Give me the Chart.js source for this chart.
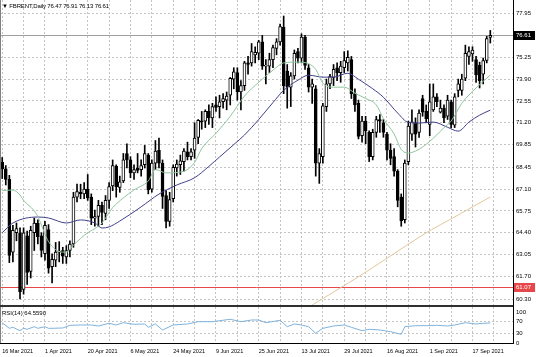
<!DOCTYPE html>
<html><head><meta charset="utf-8">
<script src="https://cdn.jsdelivr.net/npm/chart.js@4.4.1/dist/chart.umd.min.js"></script>
<style>
html,body{margin:0;padding:0;background:#fff;width:536px;height:357px;overflow:hidden}
canvas{position:absolute;left:0}
#main{top:0}
#rsi{top:305px}
.lbl{position:absolute;font-family:"Liberation Sans",Arial,sans-serif;font-size:6px;line-height:6px;color:#000;white-space:nowrap}
</style></head><body>
<canvas id="main" width="536" height="305"></canvas>
<canvas id="rsi" width="536" height="52"></canvas>
<div class="lbl" style="left:2px;top:3px;letter-spacing:-0.15px">▼ FBRENT,Daily 76.47 76.91 76.13 76.61</div>
<div class="lbl" style="left:2px;top:310px">RSI(14) 64.5590</div>
<script>
// ---------- data ----------
const dateLabels = ['16 Mar 2021','1 Apr 2021','20 Apr 2021','6 May 2021','24 May 2021','9 Jun 2021','25 Jun 2021','13 Jul 2021','29 Jul 2021','16 Aug 2021','1 Sep 2021','17 Sep 2021'];
const labelStep = 12;
const gridBars = [0,6,12,18,24,30,36,42,48,54,60,66,72,78,84,90,96,102,108,114,120,126,132,138];
const priceTicks = [77.95,76.60,75.25,73.90,72.55,71.20,69.85,68.45,67.10,65.75,64.40,63.05,61.70,60.30];
const rsiTicks = [0,30,70,100];
const bidPrice = 76.61;
const levelPrice = 61.07;

const opens = [68.75,68.35,67.70,63.20,64.40,64.40,60.90,64.20,62.00,64.40,65.00,64.20,63.10,64.60,62.30,62.70,63.20,63.30,62.90,63.30,
63.70,66.60,66.90,66.80,67.10,66.60,65.30,65.40,66.10,65.60,66.40,67.30,68.50,67.20,67.60,69.30,68.90,68.10,68.40,68.30,
68.60,69.20,67.10,68.70,69.50,68.70,66.70,65.10,66.50,68.40,68.60,68.80,69.40,69.10,69.50,70.30,71.30,71.30,71.90,71.50,
72.30,72.20,72.50,72.60,72.90,73.90,74.30,73.10,73.50,74.90,74.90,75.40,75.50,76.20,74.70,74.70,75.10,75.80,76.20,77.10,
74.40,73.40,74.10,75.60,75.20,76.50,74.60,73.40,73.30,68.70,69.10,72.20,73.60,74.00,74.60,74.30,74.60,74.90,75.10,73.00,
72.40,70.40,71.30,70.60,69.10,70.60,71.40,71.20,70.50,69.50,69.10,68.20,66.60,65.20,68.80,70.50,71.20,70.60,72.70,71.90,
71.10,72.00,72.80,71.85,72.10,71.60,72.50,71.05,73.20,73.20,73.95,75.30,75.45,75.10,74.75,74.20,75.05,76.47];
const highs = [69.05,68.55,67.95,64.85,65.00,64.70,64.70,64.50,64.80,65.30,65.20,64.40,65.10,64.90,63.10,63.80,63.85,63.50,63.60,63.90,
66.90,67.40,67.40,67.50,68.00,66.80,65.80,66.40,66.30,66.70,67.50,68.90,68.60,67.90,69.30,69.90,69.10,68.60,69.30,68.90,
69.80,69.30,68.90,70.10,70.25,68.90,67.00,66.90,68.60,68.90,69.20,69.60,70.00,69.60,71.20,71.40,71.90,72.00,72.30,72.40,
72.80,72.90,73.00,73.10,74.00,74.60,74.60,73.80,75.00,75.30,76.10,75.90,76.30,76.60,75.10,75.50,76.00,76.40,77.30,77.80,
74.80,74.30,75.70,75.80,76.70,76.60,74.80,73.90,73.50,69.60,72.40,73.90,74.20,74.80,74.90,75.00,75.60,75.65,75.30,73.30,
72.60,71.60,71.60,70.70,70.80,71.60,71.70,71.40,70.60,69.90,69.60,68.30,66.80,68.90,71.30,72.00,71.50,72.00,72.90,72.30,
73.60,73.60,73.00,72.60,72.30,72.90,72.60,73.00,73.90,74.20,76.00,75.90,75.90,75.30,74.95,75.20,76.55,76.91];
const lows = [67.75,67.35,62.55,62.60,63.90,60.30,60.60,61.20,61.60,63.30,63.70,62.90,62.70,61.90,61.30,62.30,62.60,62.50,62.50,62.90,
63.50,66.30,66.50,66.50,66.40,64.90,64.80,64.80,64.90,65.20,65.90,67.00,66.60,66.90,67.50,68.40,67.80,67.70,68.10,67.90,
68.40,66.80,66.90,68.30,68.40,65.90,64.70,64.80,66.30,67.90,68.00,68.20,68.90,68.90,69.00,69.90,70.80,70.90,71.10,70.90,
71.90,71.50,72.10,72.00,72.30,73.30,72.60,72.00,73.20,74.20,74.70,74.90,75.10,74.50,73.60,74.30,74.60,75.40,76.00,73.00,
72.10,72.20,73.90,74.90,74.90,74.50,73.10,72.40,67.90,67.45,68.70,71.90,73.30,73.50,73.80,73.70,74.30,74.40,72.70,71.90,
70.20,70.00,69.90,68.80,68.90,70.30,70.60,70.30,68.90,68.60,67.90,66.00,64.80,65.00,68.60,70.10,69.70,70.30,71.60,71.20,
70.40,71.90,72.20,71.80,71.20,71.40,70.90,70.90,72.80,72.90,73.80,74.80,75.00,73.70,73.35,73.60,74.90,76.13];
const closes = [68.35,67.70,63.00,64.55,64.65,60.75,64.40,61.95,64.55,65.00,64.15,63.30,64.85,62.20,62.75,63.20,63.25,62.95,63.30,63.70,
66.60,66.95,66.80,67.10,66.55,65.30,65.40,66.10,65.65,66.40,67.25,68.55,67.25,67.55,68.90,68.90,68.10,68.30,68.25,68.55,
69.30,67.05,68.70,69.45,68.70,66.65,65.10,66.45,68.45,68.65,68.85,69.45,69.10,69.40,70.25,71.35,71.25,71.90,71.50,72.20,
72.15,72.50,72.70,72.85,73.95,74.35,73.10,73.50,74.90,74.80,75.60,75.55,76.20,74.70,74.75,75.10,75.85,76.20,77.15,73.50,
73.40,74.10,75.50,75.20,76.50,74.75,73.40,73.60,68.70,69.30,72.25,73.60,74.05,74.50,74.30,74.70,75.05,75.25,73.00,72.30,
70.35,71.30,70.70,69.10,70.60,71.40,71.30,70.60,69.50,69.00,68.20,66.40,65.15,68.70,71.00,71.25,70.50,71.80,71.85,71.45,
72.50,72.80,72.50,72.10,71.50,72.60,71.10,72.80,73.60,73.90,75.50,75.60,75.70,74.15,73.80,75.05,76.40,76.61];

// moving averages (bar index, price)
const maFastBars = [0,3,5,6,9,10,13,17,18,20,24,26,28,31,34,37,41,43,46,51,54,56,60,64,68,72,76,79,83,86,88,90,93,96,99,102,105,107,110,112,114,116,118,122,124,126,129,133,137];
const maFastVals = [67.00,67.04,66.73,66.40,65.75,65.40,63.85,63.20,63.20,63.64,64.40,64.65,65.00,65.95,66.55,67.05,67.60,68.30,68.10,68.20,68.75,69.60,70.55,71.60,72.85,73.70,74.45,74.90,74.95,74.85,74.50,73.65,73.40,73.40,73.03,72.70,72.30,71.45,70.50,69.55,69.32,69.45,69.70,70.45,70.90,71.30,72.40,73.35,74.15];
const maSlowBars = [0,3,10,13,18,22,26,28,30,33,39,44,49,54,58,61,65,68,72,76,79,83,86,90,93,97,100,104,107,111,114,117,121,125,128,131,134,137];
const maSlowVals = [64.40,65.00,65.37,65.31,65.00,65.19,65.00,64.69,64.76,65.12,66.00,66.79,67.35,67.80,68.50,69.08,69.85,70.44,71.40,72.45,73.20,73.83,74.14,74.02,74.02,74.26,73.89,73.30,72.78,71.80,71.22,71.18,71.24,70.92,70.68,71.24,71.67,71.98];
const maLongBars = [87,99,109,118,128,137];
const maLongVals = [59.93,61.54,62.96,64.26,65.50,66.61];

const rsiBars = [0,2,3,5,6,7,9,10,12,13,14,17,19,22,25,27,30,32,34,37,40,41,43,45,48,52,55,59,64,67,70,72,74,78,80,82,84,86,88,90,93,96,98,101,103,106,109,112,113,116,119,122,125,127,130,133,135,137];
const rsiVals = [65.5,47.4,50.6,39.7,47.4,44.2,52.6,47.4,52.6,47.4,47.4,48.4,57.1,58.1,58.1,54.8,63.5,58.1,65.5,60.3,61.3,50.6,61.3,41.9,58.1,61.3,68.7,68.7,76.5,68.7,74.2,74.2,65.5,73.2,52.6,61.3,58.1,52.6,31.3,47.4,54.8,58.1,50.6,39.7,44.2,41.9,36.5,28.1,52.6,55.8,55.8,57.1,54.8,58.1,65.5,61.3,63.5,64.56];

// ---------- layout ----------
const FONT = '"Liberation Sans", Arial, sans-serif';
Chart.defaults.font.family = FONT;
Chart.defaults.color = '#000';
const xMin = -0.62, xMax = 143.37;
const yMin = 59.93, yMax = 78.79;
const rsiMax = 116.1;
const axisW = 23;
const GRID = '#c4c4c4';

const pts = (xs, ys) => xs.map((x, i) => ({x, y: ys[i]}));
const idx = closes.map((_, i) => i);

function tag(ctx, x, y, text, bg, fg) {
  ctx.fillStyle = bg;
  ctx.fillRect(x, Math.round(y) - 4, 21, 9);
  ctx.fillStyle = fg;
  ctx.font = '6px ' + FONT;
  ctx.textAlign = 'left';
  ctx.textBaseline = 'middle';
  ctx.fillText(text, x + 2, Math.round(y) + 0.5);
}

const mainDecor = {
  id: 'mainDecor',
  beforeDatasetsDraw(chart) {
    const {ctx, chartArea: a, scales: {y}} = chart;
    ctx.save();
    ctx.lineWidth = 1;
    const yb = Math.round(y.getPixelForValue(bidPrice)) + 0.5;
    ctx.strokeStyle = '#a0a0a0';
    ctx.beginPath(); ctx.moveTo(a.left, yb); ctx.lineTo(a.right, yb); ctx.stroke();
    const yl = Math.round(y.getPixelForValue(levelPrice)) + 0.5;
    ctx.strokeStyle = '#e8474a';
    ctx.beginPath(); ctx.moveTo(a.left, yl); ctx.lineTo(a.right, yl); ctx.stroke();
    ctx.restore();
  },
  afterDraw(chart) {
    const {ctx, chartArea: a, scales: {y}} = chart;
    ctx.save();
    ctx.lineWidth = 1;
    ctx.strokeStyle = '#808080';
    ctx.beginPath(); ctx.moveTo(0.5, 0); ctx.lineTo(0.5, a.bottom); ctx.stroke();
    ctx.strokeStyle = '#000';
    ctx.beginPath(); ctx.moveTo(Math.round(a.right) + 0.5, 0); ctx.lineTo(Math.round(a.right) + 0.5, a.bottom); ctx.stroke();
    tag(ctx, a.right + 1, y.getPixelForValue(bidPrice), bidPrice.toFixed(2), '#000', '#fff');
    tag(ctx, a.right + 1, y.getPixelForValue(levelPrice), levelPrice.toFixed(2), '#e8474a', '#fff');
    ctx.restore();
  }
};

const rsiDecor = {
  id: 'rsiDecor',
  afterDraw(chart) {
    const {ctx, chartArea: a} = chart;
    ctx.save();
    ctx.fillStyle = '#303030';
    ctx.fillRect(0, 0, Math.round(a.right) + 1, 2);
    ctx.lineWidth = 1;
    ctx.strokeStyle = '#808080';
    ctx.beginPath(); ctx.moveTo(0.5, a.top); ctx.lineTo(0.5, a.bottom); ctx.stroke();
    ctx.strokeStyle = '#000';
    ctx.beginPath();
    ctx.moveTo(Math.round(a.right) + 0.5, 0); ctx.lineTo(Math.round(a.right) + 0.5, Math.round(a.bottom) + 1);
    ctx.moveTo(0, Math.round(a.bottom) + 0.5); ctx.lineTo(Math.round(a.right) + 1, Math.round(a.bottom) + 0.5);
    ctx.stroke();
    ctx.restore();
  }
};

const xScaleBase = (showLabels) => ({
  type: 'linear', min: xMin, max: xMax, offset: false,
  border: {display: false, dash: [2, 2]},
  grid: {color: GRID, lineWidth: 1, drawTicks: false, offset: false},
  ticks: {
    display: showLabels, autoSkip: false, maxRotation: 0, minRotation: 0, align: 'start', padding: 5,
    font: {size: 5.5}, color: '#000',
    callback: (v) => { const k = v / labelStep; return Number.isInteger(k) && dateLabels[k] ? dateLabels[k] : ''; }
  },
  afterBuildTicks: (s) => { s.ticks = gridBars.map(v => ({value: v})); },
  afterFit: (s) => { if (showLabels) s.height = 14; else s.height = 0; s.paddingLeft = 0; s.paddingRight = 0; }
});

new Chart(document.getElementById('main'), {
  type: 'bar',
  data: {
    datasets: [
      {type: 'line', data: pts(maFastBars, maFastVals), borderColor: '#8fc49c', borderWidth: 1, pointRadius: 0, cubicInterpolationMode: 'monotone', order: 0},
      {type: 'line', data: pts(maSlowBars, maSlowVals), borderColor: '#40408a', borderWidth: 1, pointRadius: 0, cubicInterpolationMode: 'monotone', order: 0},
      {type: 'line', data: pts(maLongBars, maLongVals), borderColor: '#e3c59a', borderWidth: 1, pointRadius: 0, cubicInterpolationMode: 'monotone', order: 0},
      {data: idx.map(i => ({x: i, y: [opens[i], closes[i]]})), grouped: false, barThickness: 3, minBarLength: 1,
       backgroundColor: idx.map(i => closes[i] >= opens[i] ? '#ffffff' : '#000000'),
       borderColor: '#000', borderWidth: 1, borderSkipped: false, order: 1},
      {data: idx.map(i => ({x: i, y: [lows[i], highs[i]]})), grouped: false, barThickness: 1,
       backgroundColor: '#000', borderWidth: 0, order: 2}
    ]
  },
  options: {
    responsive: false, animation: false, events: [],
    layout: {padding: 0},
    plugins: {legend: {display: false}, tooltip: {enabled: false}},
    scales: {
      x: xScaleBase(false),
      y: {
        type: 'linear', position: 'right', min: yMin, max: yMax,
        border: {display: false, dash: [2, 2]},
        grid: {color: GRID, lineWidth: 1, drawTicks: false},
        ticks: {autoSkip: false, padding: 3, font: {size: 6}, color: '#000', callback: v => v.toFixed(2)},
        afterBuildTicks: (s) => { s.ticks = priceTicks.map(v => ({value: v})); },
        afterFit: (s) => { s.width = axisW; s.paddingTop = 0; s.paddingBottom = 0; }
      }
    }
  },
  plugins: [mainDecor]
});

new Chart(document.getElementById('rsi'), {
  type: 'line',
  data: {datasets: [{data: pts(rsiBars, rsiVals), borderColor: '#7fb2db', borderWidth: 1, pointRadius: 0, tension: 0}]},
  options: {
    responsive: false, animation: false, events: [],
    layout: {padding: {top: 2, left: 0, right: 0, bottom: 0}},
    plugins: {legend: {display: false}, tooltip: {enabled: false}},
    scales: {
      x: xScaleBase(true),
      y: {
        type: 'linear', position: 'right', min: 0, max: rsiMax,
        border: {display: false, dash: [2, 2]},
        grid: {color: (c) => (c.tick && (c.tick.value === 30 || c.tick.value === 70)) ? GRID : 'rgba(0,0,0,0)', lineWidth: 1, drawTicks: false},
        ticks: {autoSkip: false, padding: 3, font: {size: 6}, color: '#000', callback: v => String(v)},
        afterBuildTicks: (s) => { s.ticks = rsiTicks.map(v => ({value: v})); },
        afterFit: (s) => { s.width = axisW; s.paddingTop = 0; s.paddingBottom = 0; }
      }
    }
  },
  plugins: [rsiDecor]
});
</script>
</body></html>
